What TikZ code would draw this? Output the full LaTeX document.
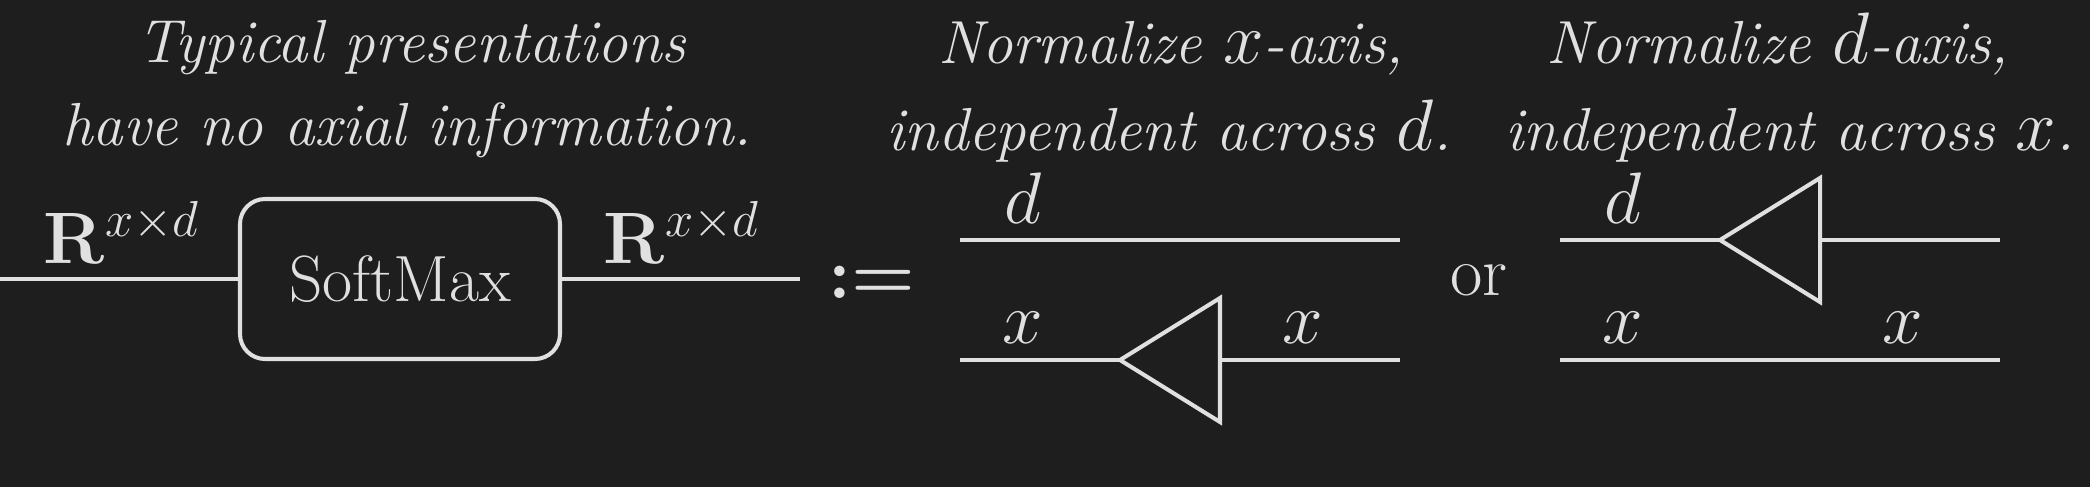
\documentclass[tikz,border=0pt]{standalone}
\usepackage{amsmath, amssymb}
\usepackage{xcolor}
\usetikzlibrary{positioning}
\definecolor{bgdark}{HTML}{1E1E1E}
\definecolor{chalk}{HTML}{E0E0E0}
\newcommand{\axvar}[1]{{\fontsize{20.5}{24}\selectfont$#1$}}

\begin{document}
\begin{tikzpicture}[x=1cm,y=1cm,
  wire/.style={draw=chalk, line width=1.15pt},
  softbox/.style={draw=chalk, line width=1.15pt, rounded corners=0.25cm,
    minimum width=3.2cm, minimum height=1.6cm, inner sep=0pt,
    text=chalk, font=\fontsize{18.6}{20}\selectfont},
  caption/.style={text=chalk, anchor=base, inner sep=0pt,
    font=\fontsize{17.3}{20}\selectfont\itshape},
  leg/.style={text=chalk, anchor=base, inner sep=0pt,
    font=\fontsize{20}{24}\selectfont}]
  % dark canvas
  \fill[bgdark] (0,0) rectangle (20.9,4.87);
  \useasboundingbox (0,0) rectangle (20.9,4.87);

  % captions over the three panels
  \node[caption] (capL1) at (4.12,4.25) {Typical presentations};
  \node[caption] (capL2) at (4.07,3.42) {have no axial information.};
  \node[caption] (capM1) at (11.71,4.24) {Normalize \axvar{x}-axis,};
  \node[caption] (capM2) at (11.69,3.37) {independent across \axvar{d}.};
  \node[caption] (capR1) at (17.78,4.24) {Normalize \axvar{d}-axis,};
  \node[caption] (capR2) at (17.90,3.37) {independent across \axvar{x}.};

  % softmax block with its two wires
  \node[softbox] (smax) at (4.0,2.08) {SoftMax};
  \coordinate (inL) at (0,2.08);
  \coordinate (outR) at (8.0,2.08);
  \draw[wire] (inL) -- (smax.west);
  \draw[wire] (smax.east) -- (outR);
  \node[leg] (typeL) at (1.22,2.24) {$\mathbf{R}^{x{\times}d}$};
  \node[leg] (typeR) at (6.82,2.24) {$\mathbf{R}^{x{\times}d}$};

  % definition sign and the word between the panels
  \node[text=chalk, anchor=base, inner sep=0pt,
    font=\fontsize{22}{26}\selectfont\boldmath] (defeq) at (8.72,1.89) {$:=$};
  \node[leg] (orw) at (14.79,1.92) {or};

  % middle panel: normalize along x
  \coordinate (topMa) at (9.6,2.47);
  \coordinate (topMb) at (14.0,2.47);
  \coordinate (botMa) at (9.6,1.27);
  \coordinate (botMb) at (14.0,1.27);
  \coordinate (triM) at (11.2,1.27);
  \coordinate (triMb) at (12.2,1.27);
  \draw[wire] (topMa) -- (topMb);
  \draw[wire] (botMa) -- (triM);
  \draw[wire] (triMb) -- (botMb);
  \draw[wire] (triM) -- ++(1.0,0.62) -- ++(0,-1.24) -- cycle;
  \node[leg] (dM) at (10.23,2.64) {$d$};
  \node[leg] (xMa) at (10.23,1.44) {$x$};
  \node[leg] (xMb) at (13.03,1.44) {$x$};

  % right panel: normalize along d
  \coordinate (topRa) at (15.6,2.47);
  \coordinate (topRb) at (20.0,2.47);
  \coordinate (botRa) at (15.6,1.27);
  \coordinate (botRb) at (20.0,1.27);
  \coordinate (triR) at (17.2,2.47);
  \coordinate (triRb) at (18.2,2.47);
  \draw[wire] (topRa) -- (triR);
  \draw[wire] (triRb) -- (topRb);
  \draw[wire] (botRa) -- (botRb);
  \draw[wire] (triR) -- ++(1.0,0.62) -- ++(0,-1.24) -- cycle;
  \node[leg] (dR) at (16.23,2.64) {$d$};
  \node[leg] (xRa) at (16.23,1.44) {$x$};
  \node[leg] (xRb) at (19.03,1.44) {$x$};
\end{tikzpicture}
\end{document}
